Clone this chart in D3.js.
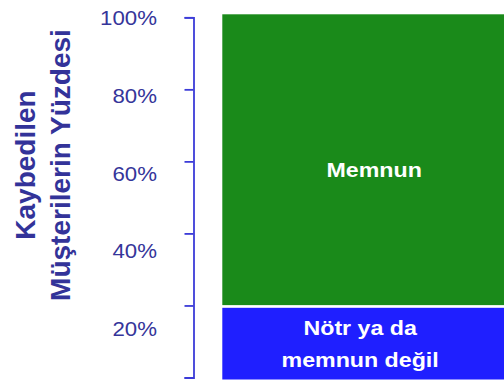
<!DOCTYPE html>
<html>
<head>
<meta charset="utf-8">
<script src="https://cdn.jsdelivr.net/npm/d3@7"></script>
<style>
  html, body { margin: 0; padding: 0; background: #fff; }
  svg { display: block; font-family: "Liberation Sans", Arial, sans-serif; }
</style>
</head>
<body>
<div id="chart"></div>
<script>
// chart data
var segmentNames = ['Nötr ya da memnun değil', 'Memnun'];
var segmentLines = [['Nötr ya da', 'memnun değil'], ['Memnun']];
var segmentValues = [20, 80];
var segmentColors = ['#1f1fff', '#1a8a1a'];

var axisTicks = [0, 20, 40, 60, 80, 100];
var labelValues = [20, 40, 60, 80, 100];
var labelTexts = ['20%', '40%', '60%', '80%', '100%'];

var titleLines = ['Kaybedilen', 'Müşterilerin Yüzdesi'];

var width = 504, height = 381;
var axisX = 193.5;
var barLeft = 222.3, barRight = 527;
var gap = 2.7;
// small label nudges (x, y) per segment
var labelShift = [[-3, 1], [11, 9]];

var svg = d3.select('#chart').append('svg')
    .attr('width', width)
    .attr('height', height);

// bar scale and axis scale do not line up exactly in the original
var yBar = d3.scaleLinear().domain([0, 100]).range([379.5, 14.3]);
var yAxis = d3.scaleLinear().domain([0, 100]).range([377.5, 17.3]);
var yLabel = d3.scaleLinear().domain([20, 100]).range([336, 25]);

var segs = [];
var acc = 0;
segmentValues.forEach(function(v, i){
    segs.push({ name: segmentNames[i], lines: segmentLines[i], start: acc, end: acc + v, color: segmentColors[i], i: i });
    acc += v;
});

var bars = svg.append('g').attr('class', 'bars');

bars.selectAll('rect')
    .data(segs)
    .enter().append('rect')
    .attr('x', barLeft)
    .attr('width', barRight - barLeft)
    .attr('y', function(d){ return yBar(d.end) + (d.end < 100 ? gap / 2 : 0); })
    .attr('height', function(d){
        var top = yBar(d.end) + (d.end < 100 ? gap / 2 : 0);
        var bot = yBar(d.start) - (d.start > 0 ? gap / 2 : 0);
        return bot - top;
    })
    .attr('fill', function(d){ return d.color; });

// segment labels
var segLabels = bars.selectAll('text')
    .data(segs)
    .enter().append('text')
    .attr('fill', '#fff')
    .attr('font-weight', 'bold')
    .attr('font-size', 20)
    .attr('text-anchor', 'middle')
    .attr('transform', function(d){
        var cx = (barLeft + width) / 2 + labelShift[d.i][0];
        var cy = (yBar(d.start) + yBar(d.end)) / 2 + labelShift[d.i][1];
        var lineH = 32.6;
        var baseline = cy + 7.2 - (d.lines.length - 1) * lineH / 2;
        return 'translate(' + cx + ',' + baseline + ') scale(1.16,1)';
    });

segLabels.selectAll('tspan')
    .data(function(d){ return d.lines; })
    .enter().append('tspan')
    .attr('x', 0)
    .attr('y', function(d, i){ return i * 32.6; })
    .text(function(d){ return d; });

// left axis bracket
var axis = d3.axisLeft(yAxis)
    .tickValues(axisTicks)
    .tickSize(9)
    .tickSizeOuter(9)
    .tickFormat('');

var axisG = svg.append('g')
    .attr('transform', 'translate(' + axisX + ',0)')
    .call(axis);

axisG.selectAll('path, line')
    .attr('stroke', '#3c3cd8')
    .attr('stroke-width', 1.8);

// percent labels sit a bit off the ticks, like the source
svg.append('g').selectAll('text')
    .data(labelValues)
    .enter().append('text')
    .attr('text-anchor', 'end')
    .attr('font-size', 21)
    .attr('fill', '#35359a')
    .attr('transform', function(d){ return 'translate(157,' + yLabel(d) + ') scale(1.06,1)'; })
    .text(function(d, i){ return labelTexts[i]; });

// rotated title
svg.append('text')
    .attr('transform', 'translate(0,165) rotate(-90)')
    .attr('text-anchor', 'middle')
    .attr('font-size', 28)
    .attr('font-weight', 'bold')
    .attr('fill', '#333399')
    .selectAll('tspan')
    .data(titleLines)
    .enter().append('tspan')
    .attr('x', 0)
    .attr('y', function(d, i){ return 35 + i * 35; })
    .text(function(d){ return d; });
</script>
</body>
</html>
